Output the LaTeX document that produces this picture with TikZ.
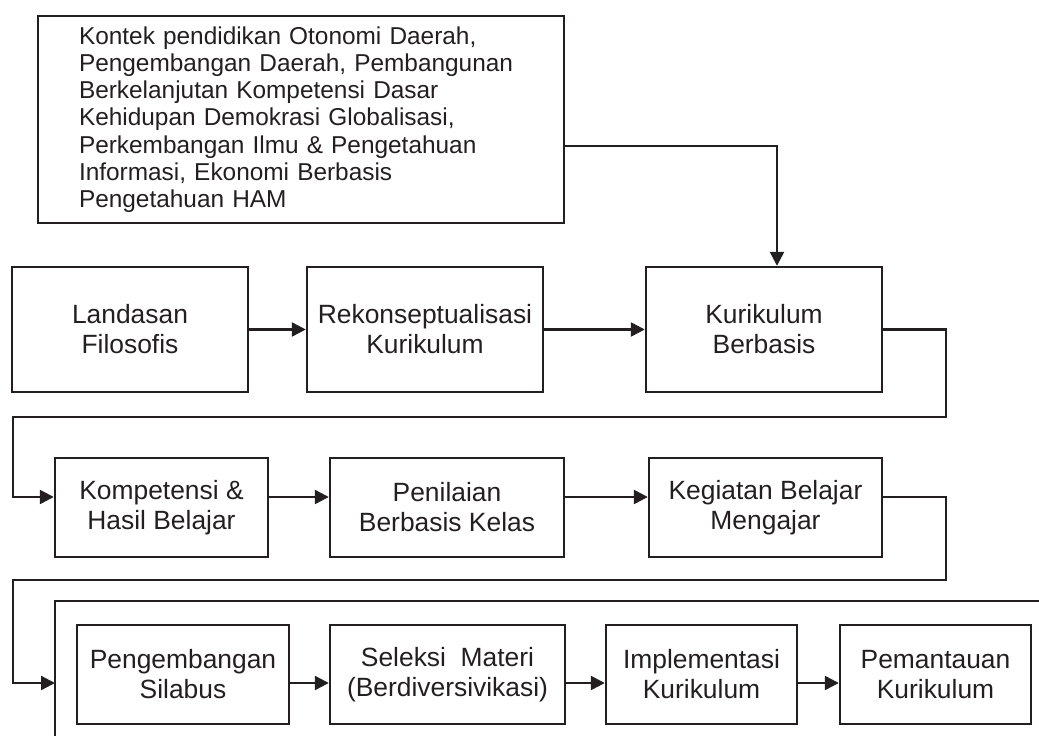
\documentclass[tikz,border=0pt]{standalone}
\usepackage{fontspec}
\setmainfont{Liberation Sans}
\usetikzlibrary{arrows.meta}
\definecolor{ink}{HTML}{231F20}
\newcommand\boxfont{\fontsize{26.4}{30}\selectfont}
\newcommand\topfont{\fontsize{24.4}{27.2}\selectfont}
\begin{document}
\begin{tikzpicture}[x=1pt,y=-1pt,
  box/.style={draw=ink, line width=2.4pt, text=ink, inner sep=0pt, align=center, font=\boxfont},
  wbox/.style={box, minimum width=236pt, minimum height=125pt},
  nbox/.style={box, minimum height=99pt},
  arr/.style={draw=ink, line width=2.4pt, -{Triangle[length=14pt,width=14pt]}},
  plain/.style={draw=ink, line width=2.4pt}]
\useasboundingbox (0,0) rectangle (1039,736);

% top context box
\node[box, font=\topfont, align=left, text width=444pt, inner xsep=41pt, minimum height=207pt] (top) at (301,119.5)
 {Kontek pendidikan Otonomi Daerah,\\Pengembangan Daerah, Pembangunan\\Berkelanjutan Kompetensi Dasar\\Kehidupan Demokrasi Globalisasi,\\Perkembangan Ilmu \& Pengetahuan\\Informasi, Ekonomi Berbasis\\Pengetahuan HAM};

% row 1
\node[wbox] (lf) at (130,329.5) {Landasan\\Filosofis};
\node[wbox] (rk) at (425,329.5) {Rekonseptualisasi\\Kurikulum};
\node[wbox] (kb) at (764,329.5) {Kurikulum\\Berbasis};

% row 2
\node[nbox, minimum width=213pt] (kh) at (161.5,507.5) {Kompetensi \&\\Hasil Belajar};
\node[nbox, minimum width=234pt] (pb) at (447,507.5) {Penilaian\\Berbasis Kelas};
\node[nbox, minimum width=233pt] (kg) at (765.5,507.5) {Kegiatan Belajar\\Mengajar};

% row 3
\node[nbox, minimum width=212pt] (ps) at (183,674.5) {Pengembangan\\Silabus};
\node[nbox, minimum width=235pt] (sm) at (447.5,674.5) {Seleksi\ \ Materi\\(Berdiversivikasi)};
\node[nbox, minimum width=191pt] (ik) at (701.5,674.5) {Implementasi\\Kurikulum};
\node[nbox, minimum width=191pt] (pk) at (935.5,674.5) {Pemantauan\\Kurikulum};

% open frame around row 3
\coordinate (fa) at (1045,601);
\coordinate (fc) at (55,601);
\coordinate (fb) at (55,745);
\draw[plain] (fa) -- (fc) -- (fb);

% connectors
\coordinate (t1) at (777,146);
\draw[arr] (top.east |- t1) -| (kb.north -| t1);

\draw[arr] (lf.east) -- (rk.west);
\draw[arr] (rk.east) -- (kb.west);

\coordinate (c1) at (946,417);
\coordinate (c2) at (13,497);
\draw[arr] (kb.east) -| (c1) -| (c2) -- (kh.west |- c2);
\draw[arr] (kh.east |- c2) -- (pb.west |- c2);
\draw[arr] (pb.east |- c2) -- (kg.west |- c2);

\coordinate (c3) at (946,580);
\coordinate (c4) at (13,683);
\coordinate (fr) at (55,683);
\draw[arr] (kg.east |- c2) -| (c3) -| (c4) -- (fr);
\draw[arr] (ps.east |- c4) -- (sm.west |- c4);
\draw[arr] (sm.east |- c4) -- (ik.west |- c4);
\draw[arr] (ik.east |- c4) -- (pk.west |- c4);
\end{tikzpicture}
\end{document}
